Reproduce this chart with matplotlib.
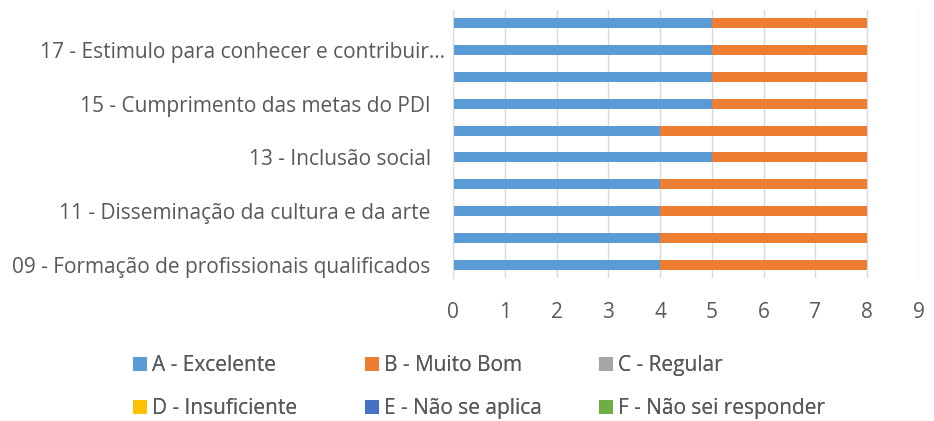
import matplotlib
matplotlib.use("Agg")
import matplotlib.pyplot as plt
from matplotlib.patches import Patch
from matplotlib.transforms import ScaledTranslation

plt.rcParams["font.family"] = ["Open Sans", "DejaVu Sans"]

# categories bottom to top (only every other one is labelled in the source)
categories = [
    "09 - Formação de profissionais qualificados",
    "",
    "11 - Disseminação da cultura e da arte",
    "",
    "13 - Inclusão social",
    "",
    "15 - Cumprimento das metas do PDI",
    "",
    "17 - Estimulo para conhecer e contribuir...",
    "",
]
series_names = [
    "A - Excelente",
    "B - Muito Bom",
    "C - Regular",
    "D - Insuficiente",
    "E - Não se aplica",
    "F - Não sei responder",
]
a_excelente = [4, 4, 4, 4, 5, 4, 5, 5, 5, 5]
b_muito_bom = [4, 4, 4, 4, 3, 4, 3, 3, 3, 3]
c_regular = [0] * 10
d_insuficiente = [0] * 10
e_nao_aplica = [0] * 10
f_nao_sei = [0] * 10
series_values = [a_excelente, b_muito_bom, c_regular, d_insuficiente, e_nao_aplica, f_nao_sei]
colors = ["#5B9BD5", "#ED7D31", "#A5A5A5", "#FFC000", "#4472C4", "#70AD47"]
x_ticks = list(range(10))

text_color = "#595959"
fs = 15

fig = plt.figure(figsize=(9.34, 4.21), dpi=100)
ax = fig.add_axes([453 / 934, 1 - 278 / 421, (919 - 453) / 934, (278 - 10) / 421])

y = list(range(len(categories)))
left = [0] * len(categories)
for vals, col in zip(series_values, colors):
    ax.barh(y, vals, left=left, height=0.38, color=col, zorder=2)
    left = [l + v for l, v in zip(left, vals)]

ax.set_xlim(0, 9)
ax.set_ylim(-0.5, len(categories) - 0.5)
ax.set_xticks(x_ticks)
ax.set_yticks(y)
ax.set_yticklabels(categories)
ax.grid(axis="x", color="#D9D9D9", linewidth=1, zorder=0)
for s in ["top", "right", "bottom"]:
    ax.spines[s].set_visible(False)
ax.spines["left"].set_color("#D9D9D9")
ax.tick_params(axis="both", length=0, labelsize=fs, colors=text_color)
ax.tick_params(axis="y", pad=16)
ax.tick_params(axis="x", pad=17)

# truncated label sits closer to the axis, as in the source
for lbl in ax.get_yticklabels():
    if lbl.get_text().endswith("..."):
        lbl.set_transform(lbl.get_transform() + ScaledTranslation(14 / 100, 0, fig.dpi_scale_trans))

# legend: 3 equally spaced columns, filled row by row
ncol = 3
col_x = [133, 365, 599]
for c in range(ncol):
    idx = [c, c + ncol]
    leg = fig.legend(
        [Patch(facecolor=colors[i], edgecolor="none") for i in idx],
        [series_names[i] for i in idx],
        loc="center left", bbox_to_anchor=(col_x[c] / 934, 1 - 387 / 421),
        ncol=1, frameon=False, fontsize=fs, labelcolor=text_color,
        handlelength=0.66, handleheight=0.66, handletextpad=0.26,
        labelspacing=1.05, borderpad=0, borderaxespad=0,
    )
    fig.add_artist(leg)

fig.savefig("out.png", dpi=100)
